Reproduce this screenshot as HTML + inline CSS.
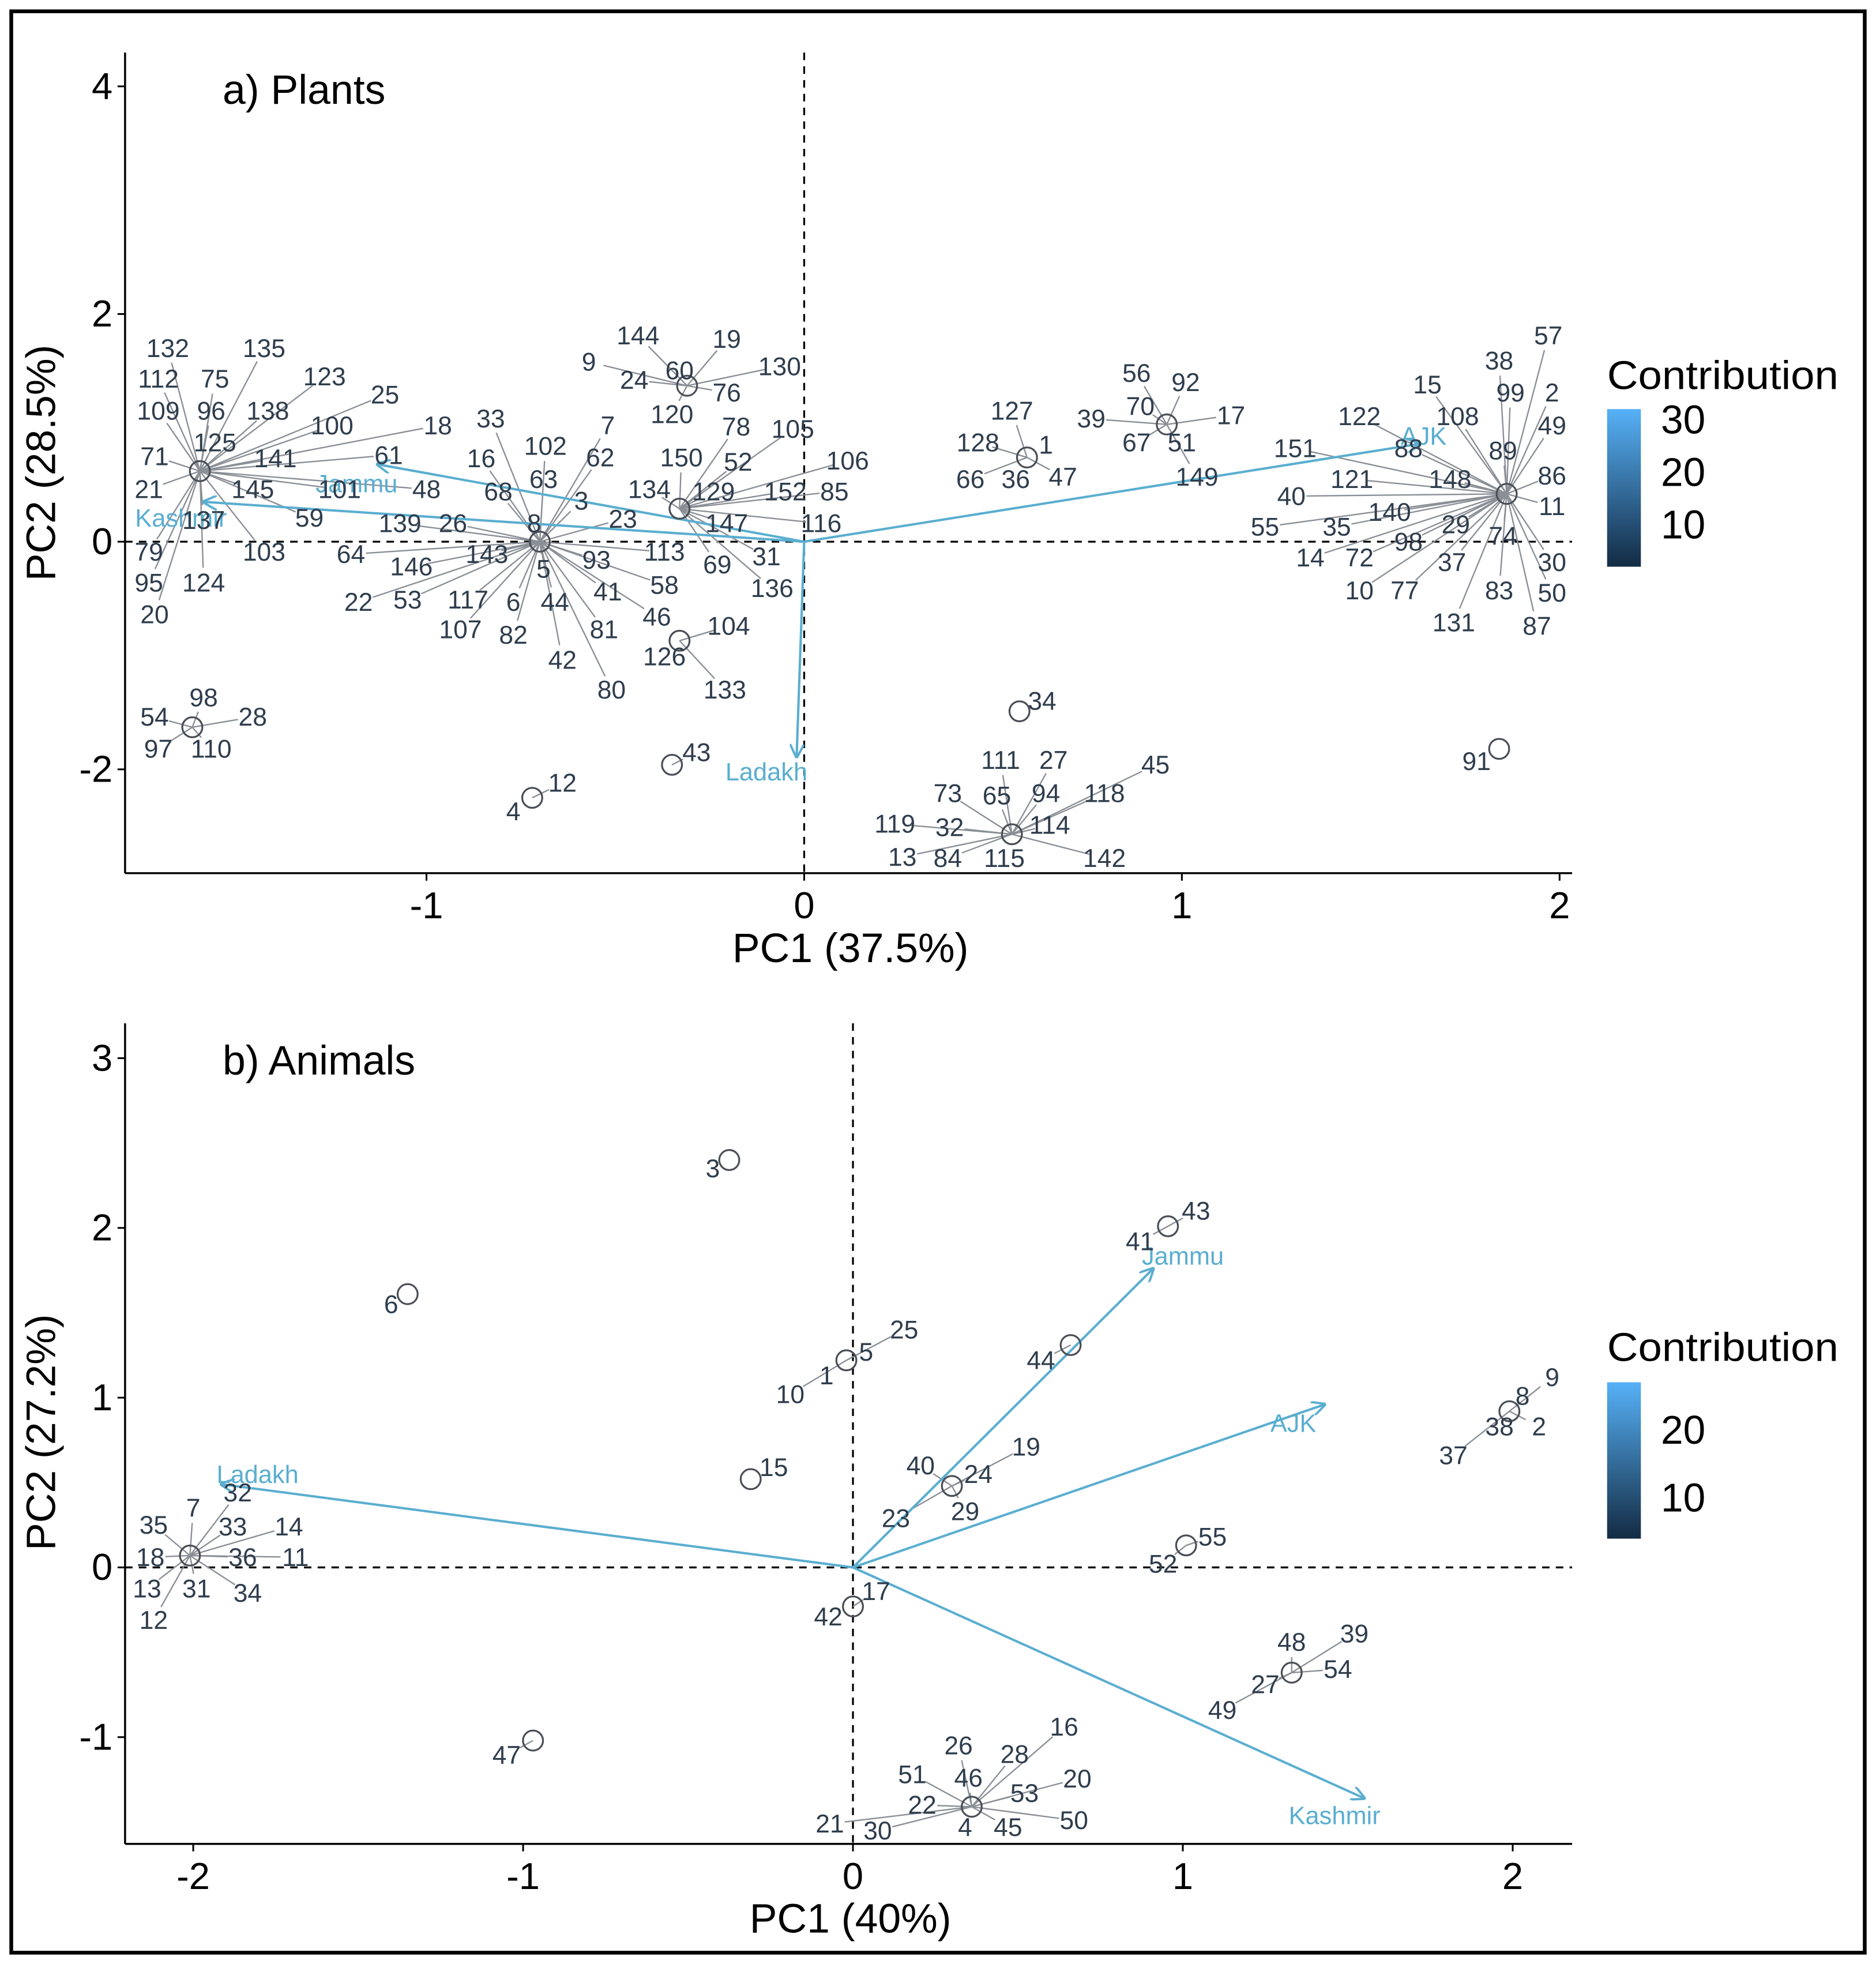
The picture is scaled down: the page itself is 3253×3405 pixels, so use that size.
<!DOCTYPE html>
<html><head><meta charset="utf-8"><style>
html,body{margin:0;padding:0;background:#fff}
svg{display:block}
text{font-family:"Liberation Sans",sans-serif}
</style></head><body>
<svg id="fig" xmlns="http://www.w3.org/2000/svg" width="3253" height="3405" viewBox="0 0 1500 1570">
<defs>
<linearGradient id="cbar" x1="0" y1="0" x2="0" y2="1"><stop offset="0" stop-color="#56b1f7"/><stop offset="1" stop-color="#132b43"/></linearGradient>
<marker id="arr" viewBox="0 0 10 10" refX="9" refY="5" markerWidth="6" markerHeight="6" orient="auto-start-reverse"><path d="M0,0 L10,5 L0,10" fill="none" stroke="#5aaed0" stroke-width="1.6"/></marker>
</defs>
<rect x="9" y="9" width="1482" height="1552" fill="#fff" stroke="#000" stroke-width="3"/>
<g id="pa"></g>
<g id="pb"></g>
</svg>
<script>
// ---------- Panel A data (Plants) ----------
const aPtX = [-1.60,-0.70,-0.33,-0.31,-0.33,-1.62,-0.35,-0.72,0.59,0.96,1.86,0.57,0.55,1.84];
const aPtY = [0.62,0.0,0.29,1.37,-0.87,-1.63,-1.96,-2.25,0.74,1.03,0.42,-1.49,-2.57,-1.82];
const aLabels = [
["132",-1.685,1.70,0],["135",-1.43,1.70,0],["112",-1.71,1.43,0],["75",-1.56,1.43,0],["123",-1.27,1.45,0],["25",-1.11,1.29,0],["109",-1.71,1.15,0],["96",-1.57,1.15,0],["138",-1.42,1.15,0],["100",-1.25,1.02,0],["18",-0.97,1.02,0],["71",-1.72,0.75,0],["125",-1.56,0.87,0],["141",-1.40,0.73,0],["61",-1.10,0.76,0],["21",-1.735,0.46,0],["145",-1.46,0.46,0],["101",-1.23,0.46,0],["48",-1.00,0.46,0],["59",-1.31,0.21,0],["137",-1.59,0.19,0],["79",-1.735,-0.09,0],["103",-1.43,-0.09,0],["95",-1.735,-0.36,0],["124",-1.59,-0.36,0],["20",-1.72,-0.64,0],
["33",-0.83,1.08,1],["7",-0.52,1.02,1],["102",-0.685,0.84,1],["62",-0.54,0.74,1],["16",-0.855,0.73,1],["63",-0.69,0.55,1],["68",-0.81,0.44,1],["3",-0.59,0.36,1],["139",-1.07,0.16,1],["26",-0.93,0.16,1],["8",-0.715,0.16,1],["23",-0.48,0.20,1],["64",-1.20,-0.11,1],["143",-0.84,-0.11,1],["93",-0.55,-0.16,1],["113",-0.37,-0.09,1],["146",-1.04,-0.22,1],["5",-0.69,-0.24,1],["41",-0.52,-0.44,1],["58",-0.37,-0.38,1],["22",-1.18,-0.53,1],["53",-1.05,-0.51,1],["117",-0.89,-0.51,1],["6",-0.77,-0.53,1],["44",-0.66,-0.53,1],["46",-0.39,-0.66,1],["81",-0.53,-0.77,1],["107",-0.91,-0.77,1],["82",-0.77,-0.82,1],["42",-0.64,-1.04,1],["80",-0.51,-1.30,1],
["150",-0.325,0.74,2],["78",-0.18,1.01,2],["105",-0.03,0.99,2],["52",-0.175,0.70,2],["106",0.115,0.71,2],["134",-0.41,0.46,2],["129",-0.24,0.44,2],["152",-0.05,0.44,2],["85",0.08,0.44,2],["147",-0.205,0.16,2],["116",0.045,0.16,2],["69",-0.23,-0.20,2],["31",-0.10,-0.13,2],["136",-0.085,-0.41,2],
["144",-0.44,1.81,3],["19",-0.205,1.78,3],["9",-0.57,1.58,3],["60",-0.33,1.505,3],["130",-0.065,1.54,3],["24",-0.45,1.42,3],["76",-0.205,1.31,3],["120",-0.35,1.12,3],
["104",-0.20,-0.74,4],["126",-0.37,-1.01,4],["133",-0.21,-1.30,4],
["98",-1.59,-1.37,5],["54",-1.72,-1.54,5],["28",-1.46,-1.54,5],["97",-1.71,-1.82,5],["110",-1.57,-1.82,5],
["43",-0.285,-1.85,6],["12",-0.64,-2.12,7],["4",-0.77,-2.37,7],
["127",0.55,1.15,8],["128",0.46,0.87,8],["1",0.64,0.85,8],["66",0.44,0.55,8],["36",0.56,0.55,8],["47",0.685,0.57,8],
["56",0.88,1.48,9],["92",1.01,1.40,9],["39",0.76,1.08,9],["70",0.89,1.19,9],["17",1.13,1.11,9],["67",0.88,0.87,9],["51",1.00,0.87,9],["149",1.04,0.57,9],
["57",1.97,1.81,10],["38",1.84,1.59,10],["15",1.65,1.38,10],["99",1.87,1.31,10],["2",1.98,1.31,10],["122",1.47,1.10,10],["108",1.73,1.10,10],["49",1.98,1.02,10],["88",1.60,0.82,10],["151",1.30,0.82,10],["89",1.85,0.80,10],["86",1.98,0.58,10],["121",1.45,0.55,10],["148",1.71,0.55,10],["40",1.29,0.40,10],["140",1.55,0.26,10],["11",1.98,0.31,10],["55",1.22,0.13,10],["35",1.41,0.13,10],["29",1.725,0.15,10],["98",1.60,0.0,10],["74",1.85,0.05,10],["14",1.34,-0.14,10],["72",1.47,-0.14,10],["37",1.715,-0.18,10],["30",1.98,-0.18,10],["10",1.47,-0.43,10],["77",1.59,-0.43,10],["83",1.84,-0.43,10],["50",1.98,-0.45,10],["131",1.72,-0.71,10],["87",1.94,-0.74,10],
["34",0.63,-1.40,11],
["111",0.52,-1.92,12],["27",0.66,-1.92,12],["45",0.93,-1.96,12],["73",0.38,-2.21,12],["65",0.51,-2.23,12],["94",0.64,-2.21,12],["118",0.795,-2.21,12],["119",0.24,-2.48,12],["32",0.385,-2.51,12],["114",0.65,-2.49,12],["13",0.26,-2.77,12],["84",0.38,-2.78,12],["115",0.53,-2.78,12],["142",0.795,-2.78,12],
["91",1.78,-1.93,13]
];
const aVarNames = ["Kashmir","Jammu","Ladakh","AJK"];
const aVarX = [-1.59,-1.13,-0.02,1.63];
const aVarY = [0.35,0.68,-1.89,0.86];
const aVarLabX = [-1.65,-1.185,-0.10,1.64];
const aVarLabY = [0.21,0.51,-2.02,0.93];
const aXTicks = [-1,0,1,2];
const aYTicks = [-2,0,2,4];
const aCbarTicks = [30,20,10];

// ---------- Panel B data (Animals) ----------
const bPtX = [-0.375,-1.35,-0.02,-0.31,0.955,0.66,0.30,1.99,1.01,1.33,0.0,-0.97,0.36,-2.01];
const bPtY = [2.40,1.61,1.22,0.52,2.01,1.31,0.48,0.92,0.13,-0.62,-0.23,-1.02,-1.41,0.07];
const bLabels = [
["3",-0.425,2.35,0],["6",-1.40,1.55,1],["25",0.155,1.40,2],["5",0.04,1.27,2],["1",-0.08,1.13,2],["10",-0.19,1.02,2],["15",-0.24,0.59,3],
["43",1.04,2.10,4],["41",0.87,1.92,4],["44",0.57,1.22,5],
["19",0.525,0.71,6],["40",0.205,0.60,6],["24",0.38,0.55,6],["29",0.34,0.33,6],["23",0.13,0.29,6],
["9",2.12,1.12,7],["8",2.03,1.01,7],["37",1.82,0.66,7],["38",1.96,0.83,7],["2",2.08,0.83,7],
["55",1.09,0.18,8],["52",0.94,0.02,8],
["48",1.33,-0.44,9],["39",1.52,-0.39,9],["54",1.47,-0.60,9],["27",1.25,-0.69,9],["49",1.12,-0.84,9],
["17",0.07,-0.14,10],["42",-0.075,-0.29,10],["47",-1.05,-1.105,11],
["26",0.32,-1.05,12],["16",0.64,-0.94,12],["28",0.49,-1.10,12],["51",0.18,-1.22,12],["46",0.35,-1.24,12],["20",0.68,-1.245,12],["53",0.52,-1.33,12],["22",0.21,-1.40,12],["50",0.67,-1.49,12],["21",-0.07,-1.51,12],["30",0.075,-1.55,12],["4",0.34,-1.53,12],["45",0.47,-1.53,12],
["7",-2.00,0.35,13],["32",-1.865,0.44,13],["35",-2.12,0.25,13],["33",-1.88,0.24,13],["14",-1.71,0.24,13],["18",-2.13,0.06,13],["36",-1.85,0.06,13],["11",-1.69,0.06,13],["13",-2.14,-0.125,13],["31",-1.99,-0.125,13],["34",-1.835,-0.15,13],["12",-2.12,-0.31,13]
];
const bVarNames = ["Jammu","AJK","Kashmir","Ladakh"];
const bVarX = [0.91,1.43,1.55,-1.915];
const bVarY = [1.76,0.96,-1.36,0.49];
const bVarLabX = [1.00,1.335,1.46,-1.805];
const bVarLabY = [1.835,0.85,-1.46,0.55];
const bXTicks = [-2,-1,0,1,2];
const bYTicks = [-1,0,1,2,3];
const bCbarTicks = [20,10];

const NS = "http://www.w3.org/2000/svg";
function mk(parent, tag, attrs, txt){
  const e = document.createElementNS(NS, tag);
  for (const k in attrs) e.setAttribute(k, attrs[k]);
  if (txt !== undefined) e.textContent = txt;
  parent.appendChild(e);
  return e;
}

function drawPanel(g, cfg){
  const sx = v => cfg.x0 + v*cfg.kx;
  const sy = v => cfg.y0 - v*cfg.ky;
  let e = mk(g,'line',{x1:cfg.L,y1:cfg.T,x2:cfg.L,y2:cfg.B,stroke:'#000','stroke-width':1.6});
   
  e = mk(g,'line',{x1:cfg.L,y1:cfg.B,x2:cfg.R,y2:cfg.B,stroke:'#000','stroke-width':1.6});
   
  e = mk(g,'line',{x1:cfg.L,y1:sy(0),x2:cfg.R,y2:sy(0),stroke:'#000','stroke-width':1.5,'stroke-dasharray':'6,5'});
   
  e = mk(g,'line',{x1:sx(0),y1:cfg.T,x2:sx(0),y2:cfg.B,stroke:'#000','stroke-width':1.5,'stroke-dasharray':'6,5'});
   
  cfg.xt.forEach(v=>{
    const t = mk(g,'line',{x1:sx(v),y1:cfg.B,x2:sx(v),y2:cfg.B+6,stroke:'#000','stroke-width':1.4});
     
    const l = mk(g,'text',{x:sx(v),y:cfg.B+36,'font-size':30,'text-anchor':'middle',fill:'#000'}, v<0?'-'+Math.abs(v):String(v));
     
  });
  cfg.yt.forEach(v=>{
    const t = mk(g,'line',{x1:cfg.L-6,y1:sy(v),x2:cfg.L,y2:sy(v),stroke:'#000','stroke-width':1.4});
     
    const l = mk(g,'text',{x:cfg.L-10,y:sy(v)+10,'font-size':30,'text-anchor':'end',fill:'#000'}, v<0?'-'+Math.abs(v):String(v));
     
  });
  e = mk(g,'text',{x:cfg.xtx,y:cfg.xty,'font-size':33,'text-anchor':'middle',fill:'#000'},cfg.xtitle);
   
  e = mk(g,'text',{x:0,y:0,'font-size':33,'text-anchor':'middle',fill:'#000',transform:`translate(44,${cfg.yty}) rotate(-90)`},cfg.ytitle);
   
  e = mk(g,'text',{x:178,y:cfg.tty,'font-size':33,fill:'#000'},cfg.title);
   
  cfg.labels.forEach(lb=>{
    const px = sx(cfg.px[lb[3]]), py = sy(cfg.py[lb[3]]);
    const lx = sx(lb[1]), ly = sy(lb[2]);
    const dx = lx-px, dy = ly-py, d = Math.hypot(dx,dy);
    if (d > 22){
      const f = (d-12)/d;
      const s = mk(g,'line',{x1:px,y1:py,x2:px+dx*f,y2:py+dy*f,stroke:'#8a8f96','stroke-width':1.1});
       
    }
  });
  cfg.vx.forEach((v,i)=>{
    const a = mk(g,'line',{x1:sx(0),y1:sy(0),x2:sx(v),y2:sy(cfg.vy[i]),stroke:'#5aaed0','stroke-width':1.9,'marker-end':'url(#arr)'});
     
    const t = mk(g,'text',{x:sx(cfg.vlx[i]),y:sy(cfg.vly[i])+7,'font-size':20,'text-anchor':'middle',fill:'#5aaed0'},cfg.vn[i]);
     
  });
  cfg.px.forEach((v,i)=>{
    const c = mk(g,'circle',{cx:sx(v),cy:sy(cfg.py[i]),r:8,fill:'none',stroke:'#4a4f57','stroke-width':1.5});
     
  });
  cfg.labels.forEach(lb=>{
    const t = mk(g,'text',{x:sx(lb[1]),y:sy(lb[2])+7,'font-size':20.5,'text-anchor':'middle',fill:'#2f3d4d'},lb[0]);
     
  });
  e = mk(g,'text',{x:1285,y:cfg.legT,'font-size':32,fill:'#000',textLength:185,lengthAdjust:'spacingAndGlyphs'},'Contribution');
   
  e = mk(g,'rect',{x:1285,y:cfg.cbT,width:27,height:cfg.cbH,fill:'url(#cbar)'});
   
  cfg.cbt.forEach(v=>{
    const yy = cfg.cbT + cfg.cbH*(1-(v-cfg.cbMin)/(cfg.cbMax-cfg.cbMin));
    const t = mk(g,'text',{x:1328,y:yy+11,'font-size':32,fill:'#000'},String(v));
     
  });
}

drawPanel(document.getElementById('pa'),{
  x0:643,kx:302,y0:433,ky:91,L:100,R:1257,T:42,B:698,
  xt:aXTicks,yt:aYTicks,xtitle:'PC1 (37.5%)',xtx:680,xty:769,ytitle:'PC2 (28.5%)',yty:370,title:'a) Plants',tty:83,
  px:aPtX,py:aPtY,labels:aLabels,vx:aVarX,vy:aVarY,vlx:aVarLabX,vly:aVarLabY,vn:aVarNames,
  legT:311,cbT:327,cbH:126,cbt:aCbarTicks,cbMin:2,cbMax:32
});
drawPanel(document.getElementById('pb'),{
  x0:682,kx:263.75,y0:1253,ky:135.7,L:100,R:1257,T:818,B:1474,
  xt:bXTicks,yt:bYTicks,xtitle:'PC1 (40%)',xtx:680,xty:1545,ytitle:'PC2 (27.2%)',yty:1145,title:'b) Animals',tty:859,
  px:bPtX,py:bPtY,labels:bLabels,vx:bVarX,vy:bVarY,vlx:bVarLabX,vly:bVarLabY,vn:bVarNames,
  legT:1088,cbT:1105,cbH:125,cbt:bCbarTicks,cbMin:4,cbMax:27
});
</script>
</body></html>
